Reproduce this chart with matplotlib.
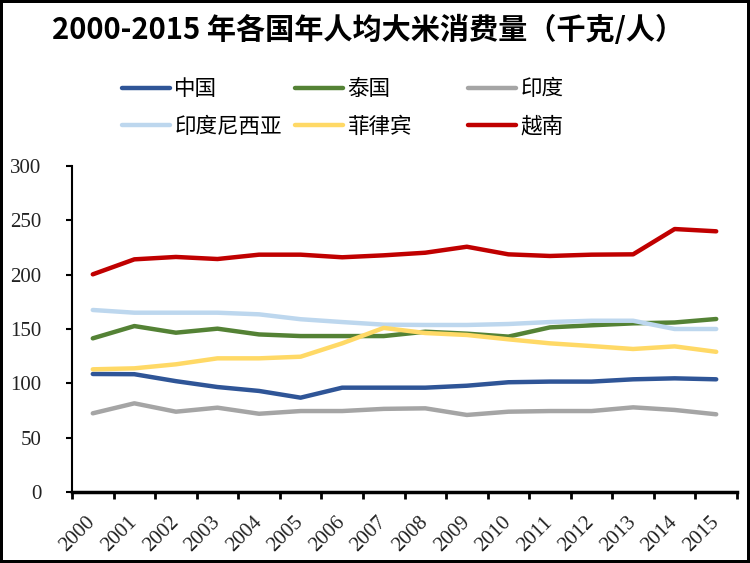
import matplotlib
matplotlib.use("Agg")
import matplotlib.pyplot as plt

years = [str(y) for y in range(2000, 2016)]
china = [108.6, 108.4, 102, 96.6, 93, 86.8, 96, 96, 96, 97.8, 101, 101.6, 101.6, 103.7, 104.6, 103.7]
thailand = [141.4, 152.7, 146.6, 150.3, 145, 143.5, 143.5, 143.5, 147.5, 145.7, 143, 151.5, 153.4, 155.2, 156, 159.2]
india = [72.4, 81.6, 73.9, 77.6, 72, 74.5, 74.5, 76.5, 77, 70.9, 73.9, 74.5, 74.5, 77.9, 75.5, 71.5]
indonesia = [167.5, 165, 165, 165, 163.5, 159, 156.4, 154, 153.7, 153.7, 154.6, 156.4, 157.6, 157.6, 150, 150]
philippines = [112.9, 113.8, 117.5, 123, 123, 124.5, 136.8, 151, 146.3, 144.5, 140.5, 136.8, 134.3, 131.6, 134, 129]
vietnam = [200.3, 214.1, 216.3, 214.4, 218.4, 218.4, 216, 217.8, 220.2, 225.7, 218.7, 217.2, 218.4, 218.7, 242, 239.9]

names = ["中国", "泰国", "印度", "印度尼西亚", "菲律宾", "越南"]
series = [china, thailand, india, indonesia, philippines, vietnam]
colors = ["#2F5597", "#548235", "#A5A5A5", "#BDD7EE", "#FFD966", "#C00000"]
yticks = [0, 50, 100, 150, 200, 250, 300]
title = "2000-2015 年各国年人均大米消费量（千克/人）"

cjk = ["Noto Sans CJK SC", "DejaVu Sans"]

fig = plt.figure(figsize=(7.5, 5.63), dpi=100)
fig.patch.set_facecolor("white")
fig.patch.set_edgecolor("black")
fig.patch.set_linewidth(3)

W, H = 750, 563
ax = fig.add_axes([72 / W, 71 / H, 665 / W, 326 / H])
x = list(range(len(years)))
handles = []
for name, vals, c in zip(names, series, colors):
    ln, = ax.plot(x, vals, color=c, lw=3.2, solid_joinstyle="round", solid_capstyle="round", label=name)
    handles.append(ln)

ax.set_xlim(-0.5, len(years) - 0.5)
ax.set_ylim(0, 300)
ax.set_yticks(yticks)
ax.set_yticklabels([str(v) for v in yticks], family="Liberation Serif", fontsize=15, color="#222222")
ax.tick_params(axis="y", direction="out", length=4, width=1.5, pad=18)
ax.set_xticks(x)
ax.set_xticklabels(years, family="Liberation Serif", fontsize=15, rotation=45,
                   ha="right", va="center", rotation_mode="anchor", color="#222222")
ax.tick_params(axis="x", which="major", length=0, pad=20)
ax.set_xticks([i - 0.5 for i in range(len(years) + 1)], minor=True)
ax.tick_params(axis="x", which="minor", direction="out", length=5, width=2)
for s in ["top", "right"]:
    ax.spines[s].set_visible(False)
ax.spines["left"].set_linewidth(1.5)
ax.spines["bottom"].set_linewidth(2.5)

fig.text(368 / W, 1 - 30 / H, title, family=cjk, fontsize=21, fontweight="bold",
         ha="center", va="center")

fs = 15.5
cols = [(0, 3), (1, 4), (2, 5)]
xs = [122, 295, 468]
for (a, b), xpos in zip(cols, xs):
    leg = fig.legend([handles[a], handles[b]], [names[a], names[b]],
                     loc="center left", bbox_to_anchor=(xpos / W, 1 - 108 / H),
                     frameon=False, borderpad=0, borderaxespad=0,
                     handlelength=48 / (fs * 100 / 72), handletextpad=0.2,
                     labelspacing=0.7, prop={"family": cjk, "size": fs})
    for lh in leg.get_lines():
        lh.set_linewidth(3.2)

fig.savefig("out.png", dpi=100)
